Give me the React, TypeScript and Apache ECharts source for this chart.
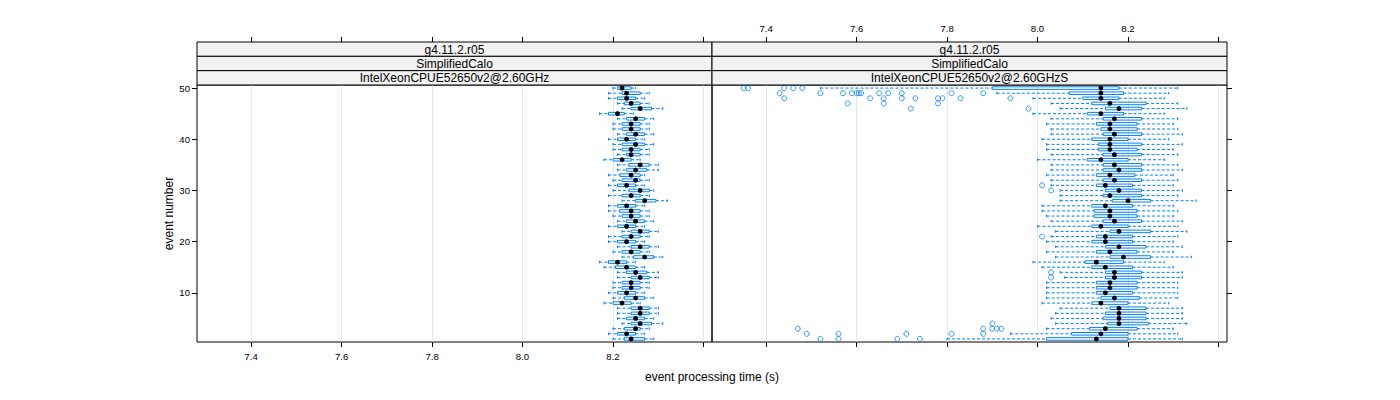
import React, { useEffect, useRef } from "react";
import * as echarts from "echarts";

// ---------- data ----------
const events: number[] = Array.from({ length: 50 }, (_, i) => i + 1);

const stripLevels = ["g4.11.2.r05", "SimplifiedCalo"];
const panelHosts = ["IntelXeonCPUE52650v2@2.60GHz", "IntelXeonCPUE52650v2@2.60GHzS"];

const xTicks = [7.4, 7.6, 7.8, 8.0, 8.2, 8.4];
const xLabels = [7.4, 7.6, 7.8, 8.0, 8.2];
const yTicks = [10, 20, 30, 40, 50];

// Panel 1 (…@2.60GHz), events 1..50
const leftLow = [8.20, 8.19, 8.20, 8.22, 8.21, 8.21, 8.21, 8.18, 8.20, 8.19, 8.20, 8.20, 8.21, 8.21, 8.18, 8.17, 8.22, 8.20, 8.21, 8.19, 8.19, 8.22, 8.19, 8.21, 8.20, 8.19, 8.19, 8.22, 8.19, 8.20, 8.19, 8.20, 8.19, 8.21, 8.21, 8.18, 8.21, 8.20, 8.20, 8.19, 8.21, 8.20, 8.20, 8.21, 8.17, 8.22, 8.21, 8.19, 8.19, 8.20];
const leftQ1 = [8.225, 8.21, 8.225, 8.24, 8.23, 8.24, 8.24, 8.20, 8.225, 8.21, 8.22, 8.22, 8.24, 8.23, 8.205, 8.19, 8.245, 8.22, 8.24, 8.21, 8.22, 8.24, 8.21, 8.23, 8.22, 8.215, 8.21, 8.25, 8.22, 8.235, 8.21, 8.22, 8.215, 8.23, 8.235, 8.20, 8.23, 8.22, 8.22, 8.21, 8.23, 8.22, 8.22, 8.23, 8.19, 8.24, 8.225, 8.21, 8.22, 8.21];
const leftMed = [8.24, 8.23, 8.25, 8.26, 8.25, 8.26, 8.26, 8.22, 8.25, 8.23, 8.24, 8.24, 8.26, 8.25, 8.23, 8.21, 8.27, 8.24, 8.26, 8.23, 8.24, 8.26, 8.23, 8.25, 8.24, 8.24, 8.23, 8.27, 8.24, 8.26, 8.23, 8.25, 8.24, 8.25, 8.26, 8.22, 8.24, 8.24, 8.25, 8.23, 8.25, 8.24, 8.24, 8.25, 8.21, 8.26, 8.24, 8.23, 8.23, 8.22];
const leftQ3 = [8.27, 8.25, 8.26, 8.285, 8.27, 8.28, 8.28, 8.24, 8.27, 8.25, 8.26, 8.26, 8.28, 8.275, 8.25, 8.23, 8.29, 8.26, 8.28, 8.25, 8.26, 8.28, 8.25, 8.27, 8.26, 8.26, 8.25, 8.295, 8.26, 8.28, 8.25, 8.26, 8.26, 8.275, 8.28, 8.24, 8.26, 8.26, 8.27, 8.25, 8.27, 8.26, 8.26, 8.27, 8.225, 8.285, 8.26, 8.25, 8.26, 8.24];
const leftHigh = [8.29, 8.27, 8.28, 8.31, 8.29, 8.30, 8.30, 8.26, 8.29, 8.27, 8.28, 8.28, 8.30, 8.30, 8.27, 8.25, 8.31, 8.28, 8.30, 8.27, 8.28, 8.30, 8.27, 8.29, 8.28, 8.28, 8.27, 8.32, 8.28, 8.29, 8.27, 8.28, 8.27, 8.30, 8.30, 8.26, 8.28, 8.28, 8.29, 8.27, 8.29, 8.28, 8.28, 8.29, 8.245, 8.31, 8.28, 8.27, 8.28, 8.25];

// Panel 2 (…@2.60GHzS), events 1..50
const rightLow = [7.80, 7.94, 8.02, 8.04, 8.03, 8.04, 8.05, 8.01, 8.02, 8.02, 8.02, 8.02, 8.06, 8.05, 8.01, 7.99, 8.04, 8.02, 8.04, 8.02, 8.03, 8.04, 8.00, 8.03, 8.02, 8.01, 8.01, 8.05, 8.05, 8.05, 8.03, 8.03, 8.02, 8.03, 8.03, 8.00, 8.03, 8.02, 8.02, 8.01, 8.03, 8.03, 8.02, 8.03, 7.99, 8.05, 8.03, 7.99, 7.91, 7.52];
const rightQ1 = [8.02, 8.075, 8.115, 8.155, 8.145, 8.15, 8.16, 8.12, 8.14, 8.13, 8.13, 8.13, 8.15, 8.15, 8.12, 8.105, 8.16, 8.13, 8.15, 8.12, 8.13, 8.16, 8.12, 8.145, 8.125, 8.125, 8.12, 8.165, 8.145, 8.15, 8.13, 8.145, 8.13, 8.145, 8.145, 8.11, 8.145, 8.135, 8.135, 8.12, 8.145, 8.14, 8.13, 8.145, 8.11, 8.15, 8.12, 8.10, 8.07, 7.90];
const rightMed = [8.13, 8.14, 8.15, 8.18, 8.18, 8.18, 8.18, 8.14, 8.17, 8.15, 8.16, 8.16, 8.17, 8.17, 8.15, 8.13, 8.19, 8.16, 8.18, 8.15, 8.15, 8.18, 8.14, 8.17, 8.16, 8.16, 8.15, 8.20, 8.16, 8.18, 8.15, 8.17, 8.16, 8.18, 8.17, 8.14, 8.17, 8.16, 8.16, 8.16, 8.17, 8.16, 8.16, 8.17, 8.14, 8.18, 8.16, 8.14, 8.14, 8.14];
const rightQ3 = [8.20, 8.20, 8.22, 8.245, 8.24, 8.24, 8.24, 8.20, 8.225, 8.21, 8.22, 8.22, 8.23, 8.23, 8.21, 8.19, 8.25, 8.22, 8.24, 8.21, 8.21, 8.25, 8.20, 8.23, 8.22, 8.22, 8.21, 8.25, 8.23, 8.23, 8.21, 8.23, 8.215, 8.23, 8.23, 8.20, 8.23, 8.22, 8.23, 8.20, 8.23, 8.22, 8.22, 8.23, 8.19, 8.23, 8.24, 8.18, 8.19, 8.18];
const rightHigh = [8.32, 8.31, 8.30, 8.33, 8.32, 8.32, 8.32, 8.29, 8.31, 8.31, 8.31, 8.31, 8.32, 8.32, 8.30, 8.28, 8.34, 8.30, 8.32, 8.30, 8.31, 8.33, 8.31, 8.32, 8.30, 8.31, 8.30, 8.35, 8.31, 8.32, 8.30, 8.31, 8.30, 8.32, 8.31, 8.28, 8.31, 8.30, 8.32, 8.29, 8.32, 8.31, 8.30, 8.31, 8.28, 8.33, 8.31, 8.28, 8.29, 8.31];

// outliers of panel 2: [time, event]
const rightOutliers: number[][] = [
  [7.35, 50], [7.36, 50], [7.44, 50], [7.46, 50], [7.48, 50],
  [7.43, 49], [7.52, 49], [7.57, 49], [7.59, 49], [7.60, 49], [7.605, 49], [7.61, 49], [7.65, 49], [7.67, 49], [7.70, 49], [7.81, 49], [7.88, 49],
  [7.44, 48], [7.63, 48], [7.66, 48], [7.70, 48], [7.73, 48], [7.78, 48], [7.79, 48], [7.83, 48], [7.94, 48],
  [7.58, 47], [7.66, 47], [7.78, 47],
  [7.72, 46], [7.98, 46],
  [8.01, 31], [8.03, 30], [8.01, 21], [8.03, 14], [8.03, 13],
  [7.90, 4],
  [7.47, 3], [7.88, 3], [7.90, 3], [7.91, 3], [7.92, 3],
  [7.49, 2], [7.56, 2], [7.71, 2], [7.81, 2], [7.88, 2],
  [7.52, 1], [7.56, 1], [7.69, 1], [7.74, 1],
];

// ---------- layout constants ----------
const X_MIN = 7.2804;
const X_MAX = 8.4188;
const Y_MIN = 0.4;
const Y_MAX = 50.6;
const BOX_RATIO = 0.5;
const BLUE = "#0080ff";
const FONT = "'Liberation Sans', Arial, Helvetica, sans-serif";

const PANEL_TOP = 85;
const PANEL_H = 257;
const PANEL_W = 515;
const PANEL_LEFTS = [197, 712];
const STRIP_H = 14.33;

function boxRows(lo: number[], q1: number[], med: number[], q3: number[], hi: number[]) {
  return events.map((e, i) => [e, lo[i], q1[i], med[i], q3[i], hi[i]]);
}

function renderBox(_params: any, api: any) {
  const ev = api.value(0);
  const pLo = api.coord([api.value(1), ev]);
  const pQ1 = api.coord([api.value(2), ev]);
  const pMed = api.coord([api.value(3), ev]);
  const pQ3 = api.coord([api.value(4), ev]);
  const pHi = api.coord([api.value(5), ev]);
  const h = Math.abs(api.size([0, BOX_RATIO])[1]);
  const y = pMed[1];
  const dash = { stroke: BLUE, lineWidth: 1, lineDash: [3, 2] };
  const solid = { stroke: BLUE, lineWidth: 1 };
  return {
    type: "group",
    children: [
      { type: "line", shape: { x1: pLo[0], y1: y, x2: pQ1[0], y2: y }, style: dash },
      { type: "line", shape: { x1: pQ3[0], y1: y, x2: pHi[0], y2: y }, style: dash },
      { type: "line", shape: { x1: pLo[0], y1: y - h / 2, x2: pLo[0], y2: y + h / 2 }, style: solid },
      { type: "line", shape: { x1: pHi[0], y1: y - h / 2, x2: pHi[0], y2: y + h / 2 }, style: solid },
      {
        type: "rect",
        shape: { x: pQ1[0], y: y - h / 2, width: pQ3[0] - pQ1[0], height: h },
        style: { fill: "rgba(0,0,0,0)", stroke: BLUE, lineWidth: 1 },
      },
      { type: "circle", shape: { cx: pMed[0], cy: y, r: 2.4 }, style: { fill: "#000" } },
    ],
  };
}

function xAxisDef(gridIndex: number, position: "top" | "bottom", showLabels: boolean) {
  return {
    type: "value",
    gridIndex,
    position,
    offset: position === "top" ? 43 : 0,
    min: X_MIN,
    max: X_MAX,
    axisLine: { show: false },
    splitLine: { show: false },
    axisTick: { show: true, inside: false, length: 5, customValues: xTicks, lineStyle: { color: "#000" } },
    axisLabel: {
      show: showLabels,
      customValues: xLabels,
      margin: 9,
      color: "#000",
      fontSize: 9.6,
      fontFamily: FONT,
      formatter: (v: number) => v.toFixed(1),
    },
  };
}

export default function App() {
  const ref = useRef<HTMLDivElement>(null);

  useEffect(() => {
    if (!ref.current) return;
    const chart = echarts.init(ref.current, undefined, { renderer: "svg" });

    const graphics: any[] = [];
    PANEL_LEFTS.forEach((left, p) => {
      const labels = [...stripLevels, panelHosts[p]];
      labels.forEach((txt, k) => {
        const top = PANEL_TOP - STRIP_H * (3 - k);
        graphics.push({
          type: "rect",
          shape: { x: left, y: top, width: PANEL_W, height: STRIP_H },
          style: { fill: "#f2f2f2", stroke: "#000", lineWidth: 1 },
          z: 10,
        });
        graphics.push({
          type: "text",
          x: left + PANEL_W / 2,
          y: top + STRIP_H / 2 + 0.5,
          style: {
            text: txt,
            fill: "#000",
            fontSize: 12,
            fontFamily: FONT,
            textAlign: "center",
            textVerticalAlign: "middle",
          },
          z: 11,
        });
      });
    });
    graphics.push({
      type: "text",
      x: 712,
      y: 377,
      style: {
        text: "event processing time (s)",
        fill: "#000",
        fontSize: 12,
        fontFamily: FONT,
        textAlign: "center",
        textVerticalAlign: "middle",
      },
    });

    const gridLines = {
      silent: true,
      symbol: "none",
      z: 1,
      label: { show: false },
      lineStyle: { color: "#e8e8e8", width: 1, type: "solid" },
      data: xTicks.map((v) => ({ xAxis: v })),
    };

    chart.setOption({
      animation: false,
      textStyle: { fontFamily: FONT },
      grid: PANEL_LEFTS.map((left) => ({
        left,
        top: PANEL_TOP,
        width: PANEL_W,
        height: PANEL_H,
        show: true,
        borderColor: "#000",
        borderWidth: 1,
        backgroundColor: "rgba(0,0,0,0)",
      })),
      xAxis: [
        xAxisDef(0, "bottom", true),
        xAxisDef(0, "top", false),
        xAxisDef(1, "bottom", false),
        xAxisDef(1, "top", true),
      ],
      yAxis: [
        {
          type: "value",
          gridIndex: 0,
          position: "left",
          min: Y_MIN,
          max: Y_MAX,
          name: "event number",
          nameLocation: "middle",
          nameGap: 21,
          nameTextStyle: { color: "#000", fontSize: 12, fontFamily: FONT },
          axisLine: { show: false },
          splitLine: { show: false },
          axisTick: { show: true, length: 5, customValues: yTicks, lineStyle: { color: "#000" } },
          axisLabel: { show: true, customValues: yTicks, margin: 7, color: "#000", fontSize: 9.6, fontFamily: FONT },
        },
        {
          type: "value",
          gridIndex: 1,
          position: "right",
          min: Y_MIN,
          max: Y_MAX,
          axisLine: { show: false },
          splitLine: { show: false },
          axisTick: { show: true, length: 5, customValues: yTicks, lineStyle: { color: "#000" } },
          axisLabel: { show: false, customValues: yTicks },
        },
      ],
      graphic: graphics,
      series: [
        {
          type: "custom",
          name: panelHosts[0],
          xAxisIndex: 0,
          yAxisIndex: 0,
          z: 3,
          renderItem: renderBox,
          encode: { x: [1, 2, 3, 4, 5], y: 0 },
          data: boxRows(leftLow, leftQ1, leftMed, leftQ3, leftHigh),
          markLine: gridLines,
        },
        {
          type: "custom",
          name: panelHosts[1],
          xAxisIndex: 2,
          yAxisIndex: 1,
          z: 3,
          renderItem: renderBox,
          encode: { x: [1, 2, 3, 4, 5], y: 0 },
          data: boxRows(rightLow, rightQ1, rightMed, rightQ3, rightHigh),
          markLine: gridLines,
        },
        {
          type: "scatter",
          name: "outliers",
          xAxisIndex: 2,
          yAxisIndex: 1,
          z: 4,
          symbol: "circle",
          symbolSize: 5,
          itemStyle: { color: "rgba(0,0,0,0)", borderColor: BLUE, borderWidth: 1 },
          data: rightOutliers,
        },
      ],
    });

    return () => chart.dispose();
  }, []);

  return (
    <div
      ref={ref}
      style={{ position: "absolute", left: 0, top: 0, width: 1400, height: 400, background: "#fff" }}
    />
  );
}
